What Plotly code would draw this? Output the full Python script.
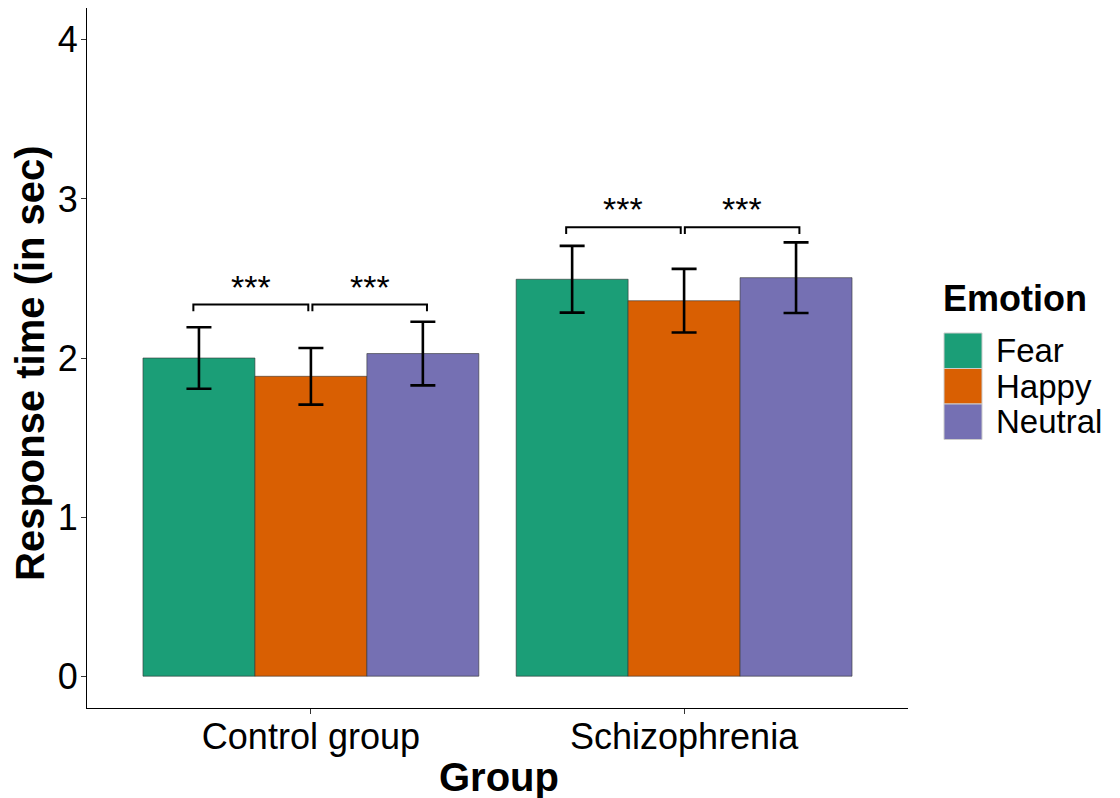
import plotly.graph_objects as go

groups = ["Control group", "Schizophrenia"]
emotions = ["Fear", "Happy", "Neutral"]
colors = ["#1B9E77", "#D95F02", "#7570B3"]
means = {
    "Fear": [2.00, 2.495],
    "Happy": [1.885, 2.36],
    "Neutral": [2.028, 2.505],
}
errors = {
    "Fear": [0.193, 0.21],
    "Happy": [0.178, 0.20],
    "Neutral": [0.2, 0.222],
}
# significance brackets: (x_start, x_end, y) in category-axis units
brackets = [
    (-0.315, -0.007, 2.336),
    (0.004, 0.311, 2.336),
    (0.684, 0.991, 2.822),
    (1.002, 1.309, 2.822),
]
bracket_labels = ["***", "***", "***", "***"]
tip = 0.042
y_ticks = [0, 1, 2, 3, 4]

FONT = "Liberation Sans, Arial, sans-serif"

OFF = 8  # page body margin
W, H = 1120 - OFF, 798 - OFF
# desired plot area in page pixels: x 87..908, y 8..708
ml, mt = 87 - OFF, 8 - OFF
mr = W - (908 - OFF)
mb = H - (708 - OFF)
pw, ph = W - ml - mr, H - mt - mb


def px2paper(xp, yp):
    """page pixel -> paper coords"""
    xf, yf = xp - OFF, yp - OFF
    return (xf - ml) / pw, 1 - (yf - mt) / ph


fig = go.Figure()
for emo, col in zip(emotions, colors):
    fig.add_trace(go.Bar(
        x=groups, y=means[emo], name=emo,
        marker=dict(color=col, line=dict(color="#333333", width=0.6)),
        error_y=dict(type="data", array=errors[emo], visible=True,
                     color="black", thickness=2.6, width=12.5),
        showlegend=False,
    ))

for (x0, x1, y), lab in zip(brackets, bracket_labels):
    fig.add_shape(type="path",
                  path=f"M {x0},{y - tip} L {x0},{y} L {x1},{y} L {x1},{y - tip}",
                  xref="x", yref="y", line=dict(color="black", width=2))
    fig.add_annotation(x=(x0 + x1) / 2, y=y, xref="x", yref="y",
                       text=lab, showarrow=False, yanchor="bottom", yshift=-3,
                       font=dict(family=FONT, size=34, color="black"))

# axis titles
ax, ay = px2paper(30, 363)
fig.add_annotation(x=ax, y=ay, xref="paper", yref="paper",
                   text="<b>Response time (in sec)</b>", textangle=-90,
                   showarrow=False, xanchor="center", yanchor="middle",
                   font=dict(family=FONT, size=40, color="black"))
gx, gy = px2paper(499, 777)
fig.add_annotation(x=gx, y=gy, xref="paper", yref="paper",
                   text="<b>Group</b>", showarrow=False,
                   xanchor="center", yanchor="middle",
                   font=dict(family=FONT, size=40, color="black"))

# manual legend (large square keys like ggplot)
tx, ty = px2paper(941, 298)
fig.add_annotation(x=tx, y=ty, xref="paper", yref="paper", text="<b>Emotion</b>",
                   showarrow=False, xanchor="left", yanchor="middle",
                   font=dict(family=FONT, size=36, color="black"))
key_top = 333
key_h = 35.5
key_w = 38
for i, (emo, col) in enumerate(zip(emotions, colors)):
    y0p = key_top + i * key_h
    x0, y0 = px2paper(944, y0p)
    x1, y1 = px2paper(944 + key_w, y0p + key_h)
    fig.add_shape(type="rect", xref="paper", yref="paper",
                  x0=x0, x1=x1, y0=y1, y1=y0,
                  fillcolor=col, line=dict(color="#CCCCCC", width=1))
    lx, ly = px2paper(994, y0p + key_h / 2)
    fig.add_annotation(x=lx, y=ly, xref="paper", yref="paper", text=emo,
                       showarrow=False, xanchor="left", yanchor="middle",
                       font=dict(family=FONT, size=33, color="black"))

fig.update_layout(
    width=W, height=H,
    margin=dict(l=ml, r=mr, t=mt, b=mb, pad=0),
    barmode="group", bargap=0.1, bargroupgap=0,
    plot_bgcolor="white", paper_bgcolor="white",
    font=dict(family=FONT, color="black"),
    showlegend=False,
)
fig.update_xaxes(
    range=[-0.6, 1.6], showline=True, linecolor="black", linewidth=1.2,
    ticks="outside", ticklen=5, tickcolor="#333333", tickwidth=1.2,
    tickfont=dict(family=FONT, size=36, color="black"),
    ticklabelstandoff=-8,
    showgrid=False, zeroline=False,
)
fig.update_yaxes(
    range=[-0.2, 4.2], tickvals=y_ticks, showline=True, linecolor="black", linewidth=1.2,
    ticks="outside", ticklen=5, tickcolor="#333333", tickwidth=1.2,
    tickfont=dict(family=FONT, size=36, color="black"),
    ticklabelstandoff=-4,
    showgrid=False, zeroline=False,
)

fig.write_html("out.html")
